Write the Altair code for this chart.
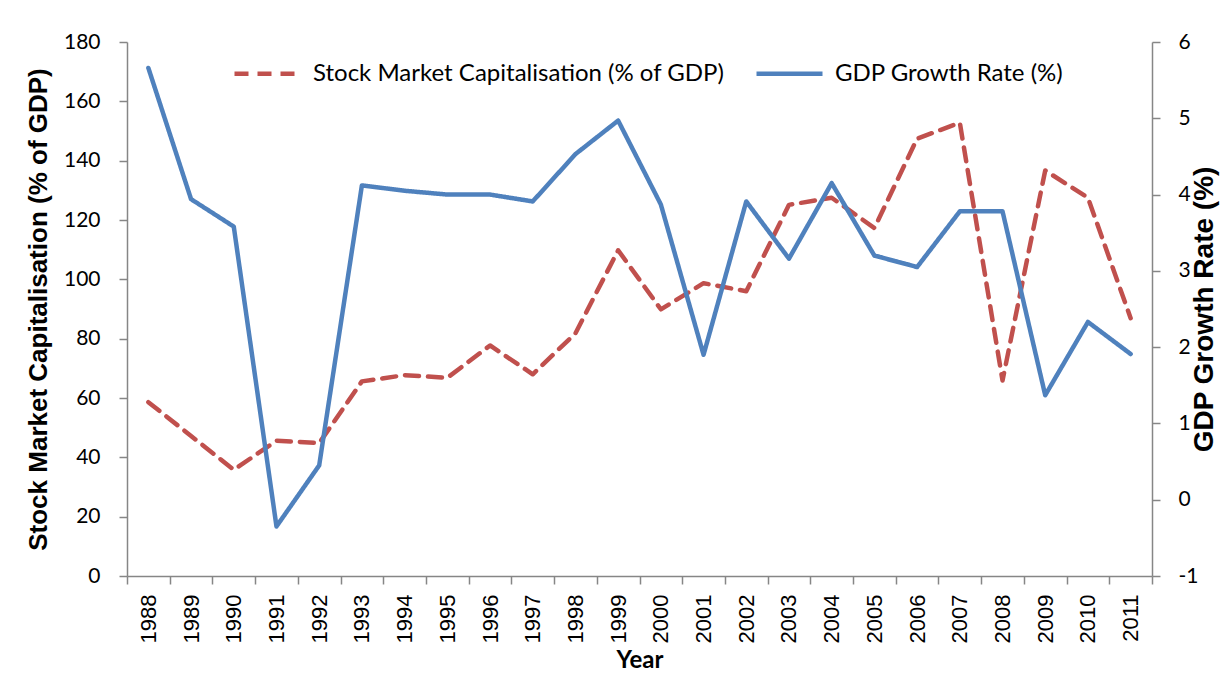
import altair as alt
import pandas as pd

years = [str(y) for y in range(1988, 2012)]
smc = [58.6, 47.2, 35.8, 45.6, 44.8, 65.6, 67.7, 66.8, 77.7, 68.0, 81.8, 109.8,
       89.9, 98.7, 96.0, 125.1, 127.5, 117.3, 147.4, 152.8, 65.9, 136.7, 127.5, 86.9]
gdp = [5.66, 3.94, 3.58, -0.35, 0.45, 4.12, 4.05, 4.0, 4.0, 3.91, 4.53, 4.97,
       3.87, 1.90, 3.91, 3.16, 4.15, 3.20, 3.05, 3.78, 3.78, 1.37, 2.33, 1.91]
s1 = "Stock Market Capitalisation (% of GDP)"
s2 = "GDP Growth Rate (%)"

df1 = pd.DataFrame({"Year": years, "v": smc, "Series": s1})
df2 = pd.DataFrame({"Year": years, "g": gdp, "Series": s2})

leg = dict(orient="none", legendX=105, legendY=-4, direction="horizontal", title=None,
           symbolType="stroke", symbolSize=4356, symbolStrokeWidth=4.5,
           labelFont="Lato", labelFontSize=24, labelColor="black",
           labelOffset=10, columnPadding=22, labelLimit=700)

color = alt.Color("Series:N",
                  scale=alt.Scale(domain=[s1, s2], range=["#C0504D", "#4F81BD"]),
                  legend=alt.Legend(**leg))
dash = alt.StrokeDash("Series:N",
                      scale=alt.Scale(domain=[s1, s2], range=[[14, 9], [1, 0]]),
                      legend=alt.Legend(**leg))

xenc = alt.X("Year:O", sort=years,
             scale=alt.Scale(paddingInner=0, paddingOuter=0),
             axis=alt.Axis(title="Year", labelAngle=270, labelFont="Liberation Sans",
                           labelFontSize=22, labelPadding=10, tickBand="extent",
                           tickSize=8, titleFont="Lato", titleFontSize=24,
                           titlePadding=6))

line1 = alt.Chart(df1).mark_line(strokeWidth=4.5, strokeCap="round",
                                 strokeJoin="round").encode(
    x=xenc,
    y=alt.Y("v:Q", scale=alt.Scale(domain=[0, 180], nice=False),
            axis=alt.Axis(title=s1, orient="left", values=list(range(0, 181, 20)),
                          labelPadding=19, titlePadding=12, titleFontSize=26)),
    color=color,
    strokeDash=dash,
)

line2 = alt.Chart(df2).mark_line(strokeWidth=4.5, strokeCap="round",
                                 strokeJoin="round").encode(
    x=xenc,
    y=alt.Y("g:Q", scale=alt.Scale(domain=[-1, 6], nice=False),
            axis=alt.Axis(title=s2, orient="right", values=list(range(-1, 7)),
                          labelExpr="'' + datum.value",
                          labelPadding=18, titlePadding=21, titleAngle=270,
                          titleFontSize=28)),
    color=color,
    strokeDash=dash,
)

chart = alt.layer(line1, line2).resolve_scale(y="independent").properties(
    width=1025, height=534,
    autosize=alt.AutoSizeParams(type="none"),
    padding={"left": 119, "top": 34, "right": 70, "bottom": 100},
).configure_view(stroke=None).configure_axis(
    grid=False, domainColor="#868686", tickColor="#868686", domainWidth=1.5,
    tickWidth=1.5, tickSize=8, labelFont="Lato", labelFontSize=21,
    labelColor="black", titleFont="Liberation Sans", titleFontSize=21,
    titleFontWeight="bold", titleColor="black",
)

chart.save("out.html", embed_options={"renderer": "svg", "actions": False})
